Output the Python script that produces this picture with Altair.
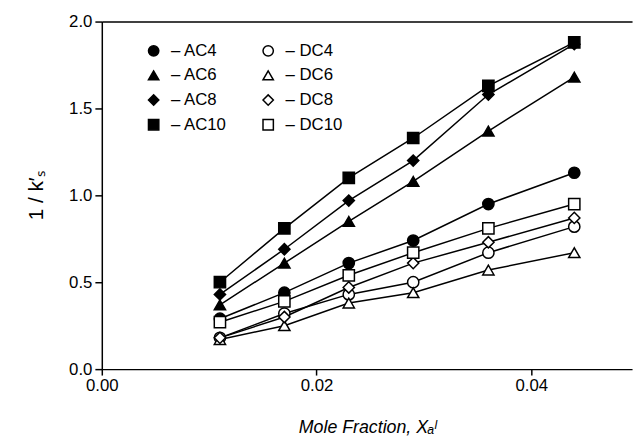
import altair as alt
import pandas as pd

x_vals = [0.011, 0.017, 0.023, 0.029, 0.036, 0.044]
series_order = ["AC4", "AC6", "AC8", "AC10", "DC4", "DC6", "DC8", "DC10"]
AC4 = [0.29, 0.44, 0.61, 0.74, 0.95, 1.13]
AC6 = [0.37, 0.61, 0.85, 1.08, 1.37, 1.68]
AC8 = [0.43, 0.69, 0.97, 1.20, 1.58, 1.87]
AC10 = [0.50, 0.81, 1.10, 1.33, 1.63, 1.88]
DC4 = [0.18, 0.32, 0.43, 0.50, 0.67, 0.82]
DC6 = [0.17, 0.25, 0.38, 0.44, 0.57, 0.67]
DC8 = [0.18, 0.30, 0.47, 0.61, 0.73, 0.87]
DC10 = [0.27, 0.39, 0.54, 0.67, 0.81, 0.95]
shapes = ["circle", "triangle-up", "diamond", "square", "circle", "triangle-up", "diamond", "square"]
fills = ["black", "black", "black", "black", "white", "white", "white", "white"]
strokes = ["black"] * 8
x_ticks = [0.0, 0.02, 0.04]
y_ticks = [0.0, 0.5, 1.0, 1.5, 2.0]

values = {"AC4": AC4, "AC6": AC6, "AC8": AC8, "AC10": AC10,
          "DC4": DC4, "DC6": DC6, "DC8": DC8, "DC10": DC10}
rows = []
for name in series_order:
    for xv, yv in zip(x_vals, values[name]):
        rows.append({"series": name, "x": xv, "y": yv})
df = pd.DataFrame(rows)

FONT = "Liberation Sans"
xscale = alt.Scale(domain=[0, 0.04938], nice=False, zero=False)
yscale = alt.Scale(domain=[0, 2.0], nice=False)

base = alt.Chart(df)

lines = base.mark_line(color="black", strokeWidth=1.5).encode(
    x=alt.X("x:Q", scale=xscale,
            axis=alt.Axis(values=x_ticks, format=".2f", title="Mole Fraction, Xₐˡ",
                          labelFlush=False, tickSize=6, labelPadding=3,
                          titlePadding=25, grid=False)),
    y=alt.Y("y:Q", scale=yscale,
            axis=alt.Axis(values=y_ticks, format=".1f", title="1 / k′ₛ",
                          tickSize=7, labelPadding=3, titlePadding=22, grid=False)),
    detail="series:N",
)

legend = alt.Legend(orient="none", legendX=44, legendY=21, columns=2,
                    title=None, labelFontSize=17, labelFont=FONT,
                    symbolSize=110, symbolStrokeWidth=1.5,
                    rowPadding=7, columnPadding=33, labelOffset=9, padding=0,
                    labelExpr="'– ' + datum.label")

points = base.mark_point(filled=False, strokeWidth=1.5, size=130, opacity=1).encode(
    x=alt.X("x:Q", scale=xscale,
            axis=alt.Axis(labels=False, ticks=False, title=None, grid=False)),
    y=alt.Y("y:Q", scale=yscale),
    shape=alt.Shape("series:N", scale=alt.Scale(domain=series_order, range=shapes), legend=legend),
    fill=alt.Fill("series:N", scale=alt.Scale(domain=series_order, range=fills), legend=legend),
    stroke=alt.Stroke("series:N", scale=alt.Scale(domain=series_order, range=strokes), legend=legend),
)

chart = alt.layer(lines, points).resolve_axis(x="independent").properties(
    width=537, height=352,
    padding={"left": 95, "top": 11, "right": 4, "bottom": 66},
    autosize=alt.AutoSizeParams(type="none"),
).configure_view(stroke=None).configure_axis(
    domainColor="black", domainWidth=1.5, tickColor="black", tickWidth=1.5,
    labelFont=FONT, labelFontSize=17, labelColor="black",
    titleFont=FONT, titleFontSize=18, titleColor="black", titleFontWeight="normal",
).configure_axisBottom(titleFontStyle="italic").configure_axisLeft(titleFontSize=21)

chart.save("out.html", embed_options={"renderer": "svg", "actions": False})
